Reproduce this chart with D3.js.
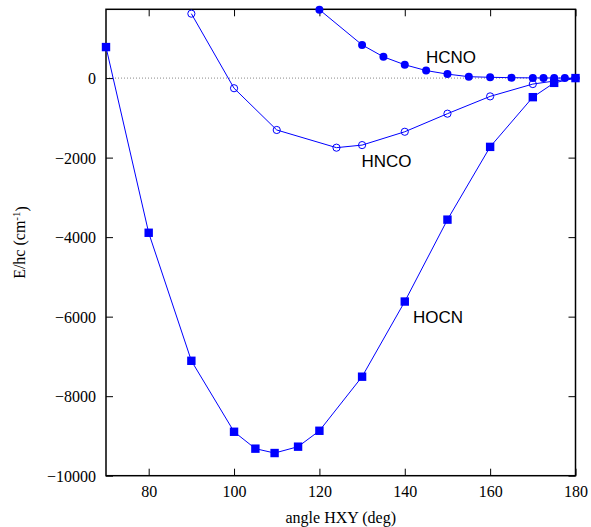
<!DOCTYPE html>
<html>
<head>
<meta charset="utf-8">
<script src="https://cdn.jsdelivr.net/npm/d3@7"></script>
<style>
  body { margin: 0; background: #fff; }
  svg { display: block; }
</style>
</head>
<body>
<script>
const w = 591;
const h = 527;

// angle HXY (deg) and E/hc (cm^-1) for each isomer
const hocnAngle = [70, 80, 90, 100, 105, 109.5, 115, 120, 130, 140, 150, 160, 170, 175, 180];
const hocnE = [780, -3890, -7110, -8895, -9320, -9430, -9270, -8870, -7510, -5620, -3560, -1730, -480, -120, 0];

const hncoAngle = [90, 100, 110, 124, 130, 140, 150, 160, 170, 180];
const hncoE = [1620, -255, -1305, -1750, -1685, -1350, -895, -460, -150, 0];

const hcnoAngle = [120, 130, 135, 140, 145, 150, 155, 160, 165, 170, 172.5, 175, 177.5, 180];
const hcnoE = [1720, 835, 535, 335, 190, 100, 35, 20, 10, 5, 3, 2, 1, 0];

const xTicks = [80, 100, 120, 140, 160, 180];
const yTicks = [-10000, -8000, -6000, -4000, -2000, 0];

const blue = '#0000ff';
const serif = '"Liberation Serif", "Times New Roman", serif';
const sans = '"Liberation Sans", Arial, sans-serif';

const pLeft = 106, pRight = 575.5, pTop = 9.3, pBottom = 475.7;

const x = d3.scaleLinear().domain([70, 180]).range([pLeft, pRight]);
const y = d3.scaleLinear().domain([-10000, 1730]).range([pBottom, pTop]);

const svg = d3.select('body').append('svg')
    .attr('width', w)
    .attr('height', h);

// zero line
svg.append('line')
    .attr('x1', x(70)).attr('x2', x(180))
    .attr('y1', y(0)).attr('y2', y(0))
    .attr('stroke', '#888')
    .attr('stroke-width', 1)
    .attr('stroke-dasharray', '1,2');

// axes, ticks pointing inward on all sides
function styleAxis(g) {
    g.select('.domain').remove();
    g.selectAll('line').attr('stroke', '#000').attr('stroke-width', 1);
    g.selectAll('text')
        .attr('fill', '#000')
        .style('font-family', serif)
        .style('font-size', '16px');
}

svg.append('g')
    .attr('transform', `translate(0,${pBottom})`)
    .call(d3.axisBottom(x).tickValues(xTicks).tickSize(-7).tickPadding(10).tickFormat(d3.format('d')))
    .call(styleAxis);

svg.append('g')
    .attr('transform', `translate(0,${pTop})`)
    .call(d3.axisTop(x).tickValues(xTicks).tickSize(-7).tickFormat(''))
    .call(styleAxis);

svg.append('g')
    .attr('transform', `translate(${pLeft},0)`)
    .call(d3.axisLeft(y).tickValues(yTicks).tickSize(-7).tickPadding(10).tickFormat(d3.format('d')))
    .call(styleAxis)
    .selectAll('text').attr('dy', '0.36em');

svg.append('g')
    .attr('transform', `translate(${pRight},0)`)
    .call(d3.axisRight(y).tickValues(yTicks).tickSize(-7).tickFormat(''))
    .call(styleAxis);

// frame
svg.append('rect')
    .attr('x', pLeft).attr('y', pTop)
    .attr('width', pRight - pLeft).attr('height', pBottom - pTop)
    .attr('fill', 'none')
    .attr('stroke', '#000')
    .attr('stroke-width', 1.5);

const line = d3.line()
    .x(d => x(d[0]))
    .y(d => y(d[1]));

function series(angles, energies) {
    return angles.map((a, i) => [a, energies[i]]);
}

const hocn = series(hocnAngle, hocnE);
const hnco = series(hncoAngle, hncoE);
const hcno = series(hcnoAngle, hcnoE);

[hocn, hnco, hcno].forEach(s => {
    svg.append('path')
        .datum(s)
        .attr('d', line)
        .attr('fill', 'none')
        .attr('stroke', blue)
        .attr('stroke-width', 1);
});

// HNCO: open circles
svg.append('g').selectAll('circle')
    .data(hnco)
    .enter()
    .append('circle')
    .attr('cx', d => x(d[0]))
    .attr('cy', d => y(d[1]))
    .attr('r', 3.6)
    .attr('fill', 'none')
    .attr('stroke', blue)
    .attr('stroke-width', 1);

// HCNO: filled circles
svg.append('g').selectAll('circle')
    .data(hcno)
    .enter()
    .append('circle')
    .attr('cx', d => x(d[0]))
    .attr('cy', d => y(d[1]))
    .attr('r', 4)
    .attr('fill', blue);

// HOCN: filled squares
svg.append('g').selectAll('rect')
    .data(hocn)
    .enter()
    .append('rect')
    .attr('x', d => x(d[0]) - 4.2)
    .attr('y', d => y(d[1]) - 4.2)
    .attr('width', 8.4)
    .attr('height', 8.4)
    .attr('fill', blue);

// curve labels
const labels = [
    {text: 'HCNO', x: 426, y: 62.5},
    {text: 'HNCO', x: 361.5, y: 166.5},
    {text: 'HOCN', x: 413, y: 323}
];
svg.selectAll('text.label')
    .data(labels)
    .enter()
    .append('text')
    .attr('class', 'label')
    .attr('x', d => d.x)
    .attr('y', d => d.y)
    .attr('fill', '#000')
    .style('font-family', sans)
    .style('font-size', '17px')
    .text(d => d.text);

// axis titles
svg.append('text')
    .attr('x', (pLeft + pRight) / 2)
    .attr('y', 523)
    .attr('text-anchor', 'middle')
    .style('font-family', serif)
    .style('font-size', '16px')
    .text('angle HXY (deg)');

const yTitle = svg.append('text')
    .attr('transform', `translate(25,${(pTop + pBottom) / 2}) rotate(-90)`)
    .attr('text-anchor', 'middle')
    .style('font-family', serif)
    .style('font-size', '16px');
yTitle.append('tspan').text('E/hc (cm');
yTitle.append('tspan').attr('dy', '-0.45em').style('font-size', '11px').text('-1');
yTitle.append('tspan').attr('dy', '0.45em').text(')');
</script>
</body>
</html>
